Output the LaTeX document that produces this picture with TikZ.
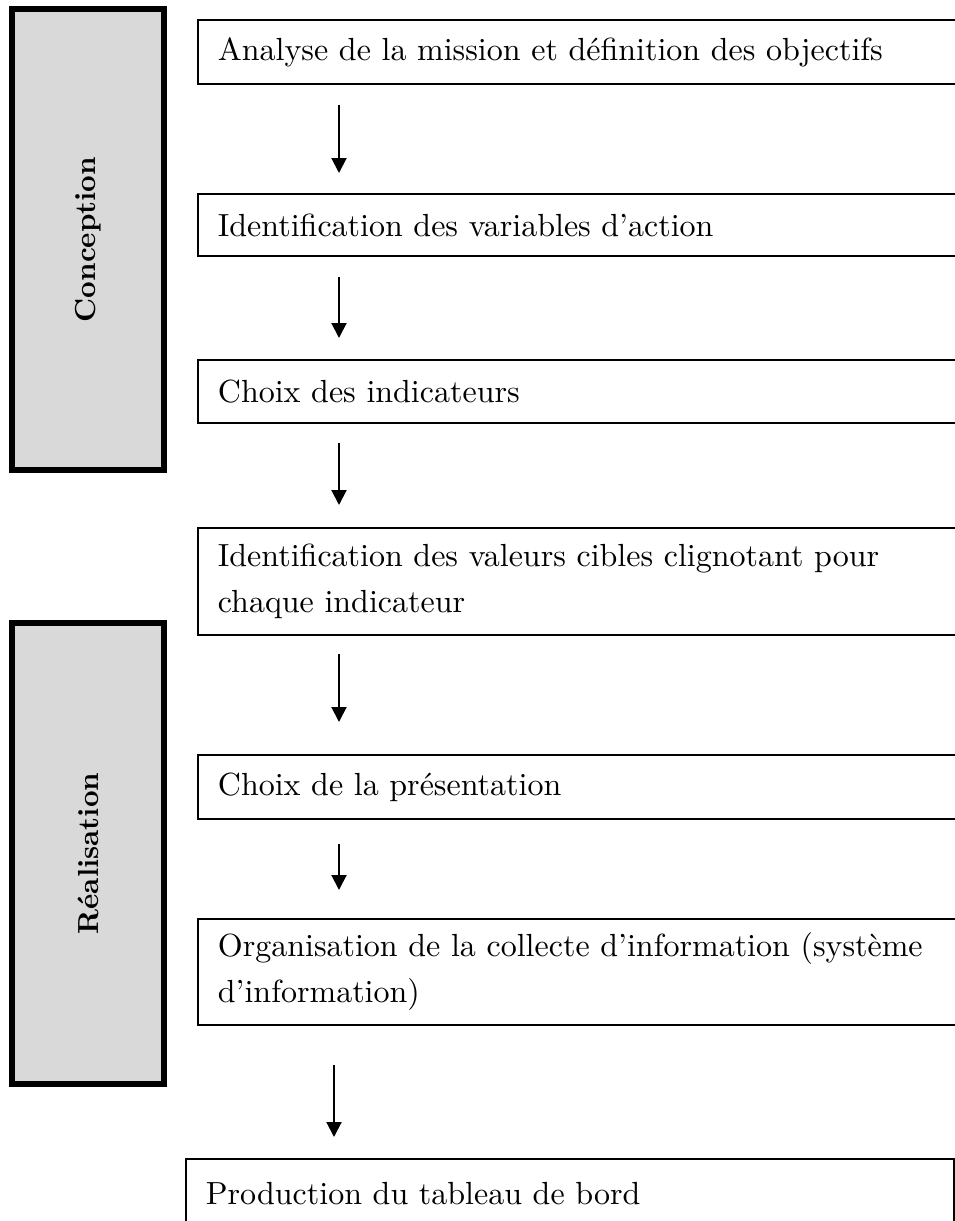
\documentclass[tikz,border=0pt]{standalone}
\usepackage{fontspec}
\setmainfont{lmroman10-regular.otf}[BoldFont=lmroman10-bold.otf]
\usetikzlibrary{arrows.meta,positioning}
\definecolor{phasefill}{RGB}{217,217,217}

\begin{document}
\begin{tikzpicture}[
    x=1pt, y=-1pt,
    font=\fontsize{32}{46}\selectfont,
    box/.style={draw=black, line width=1.8pt, anchor=north west, align=left,
      inner xsep=20pt, inner ysep=0pt, text width=718pt, minimum width=758pt},
    phase/.style={draw=black, fill=phasefill, line width=6pt, rotate=90,
      minimum width=461pt, minimum height=152pt,
      font=\fontsize{29}{35}\selectfont\bfseries},
    arrow/.style={-{Triangle[length=15pt,width=15pt]}, line width=2pt}
  ]
    \useasboundingbox (0,0) rectangle (955,1221);
    % phases
    \node[phase] (conception) at (88,239.5) {Conception};
    \node[phase] (realisation) at (88,853.5) {Réalisation};
    % steps
    \node[box, minimum height=64pt] (analyse) at (197,19) {Analyse de la mission et définition des objectifs};
    \node[box, minimum height=62pt] (variables) at (197,193) {Identification des variables d’action};
    \node[box, minimum height=63pt] (indicateurs) at (197,359) {Choix des indicateurs};
    \node[box, minimum height=107pt] (valeurs) at (197,527) {Identification des valeurs cibles clignotant pour\\chaque indicateur};
    \node[box, minimum height=64pt] (presentation) at (197,754) {Choix de la présentation};
    \node[box, minimum height=106pt] (collecte) at (197,918) {Organisation de la collecte d’information (système\\d’information)};
    \node[box, minimum height=70pt, text width=728pt, minimum width=768pt] (production) at (185,1158) {Production du tableau de bord};
    \coordinate (axe) at (339,0);
    \coordinate (axebas) at (334,0);
    \draw[arrow, shorten <=20pt, shorten >=20pt] (analyse.south -| axe) -- (variables.north -| axe);
    \draw[arrow, shorten <=20pt, shorten >=21pt] (variables.south -| axe) -- (indicateurs.north -| axe);
    \draw[arrow, shorten <=19pt, shorten >=22pt] (indicateurs.south -| axe) -- (valeurs.north -| axe);
    \draw[arrow, shorten <=18pt, shorten >=32pt] (valeurs.south -| axe) -- (presentation.north -| axe);
    \draw[arrow, shorten <=24pt, shorten >=28pt] (presentation.south -| axe) -- (collecte.north -| axe);
    \draw[arrow, shorten <=39pt, shorten >=21pt] (collecte.south -| axebas) -- (production.north -| axebas);
  \end{tikzpicture}
\end{document}
